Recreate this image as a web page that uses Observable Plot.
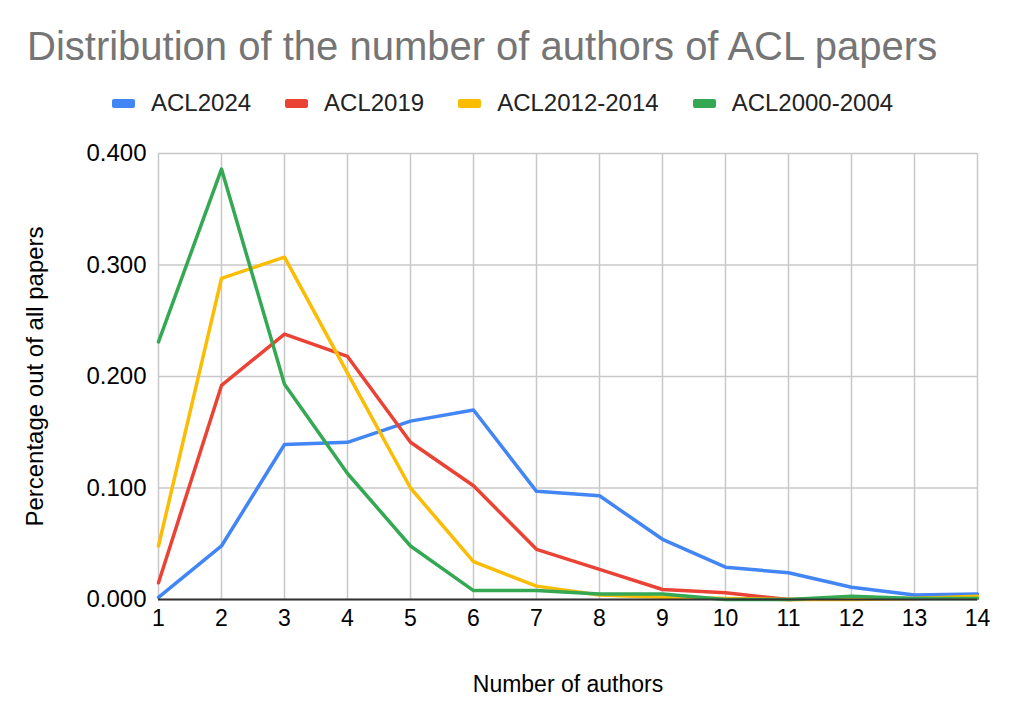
<!DOCTYPE html>
<html>
<head>
<meta charset="utf-8">
<script src="https://cdn.jsdelivr.net/npm/d3@7"></script>
<script src="https://cdn.jsdelivr.net/npm/@observablehq/plot@0.6"></script>
<style>
  html, body { margin: 0; padding: 0; background: #fff; }
  body { width: 1011px; height: 720px; position: relative; overflow: hidden; font-family: "Liberation Sans", Arial, sans-serif; }
  #title { position: absolute; left: 27px; top: 23px; font-size: 40px; line-height: 46px; color: #757575; white-space: nowrap; }
  #legend { position: absolute; left: 112px; top: 90px; display: flex; font-size: 24px; line-height: 26px; color: #222; white-space: nowrap; }
  .item { display: flex; align-items: center; margin-right: 34px; }
  .sw { width: 23px; height: 9px; border-radius: 2px; margin-right: 16px; }
  #chart { position: absolute; left: 0; top: 130px; }
</style>
</head>
<body>
<div id="title">Distribution of the number of authors of ACL papers</div>
<div id="legend"></div>
<div id="chart"></div>
<script>
const authors = [1, 2, 3, 4, 5, 6, 7, 8, 9, 10, 11, 12, 13, 14];
const seriesNames = ["ACL2024", "ACL2019", "ACL2012-2014", "ACL2000-2004"];
const seriesColors = ["#4285F4", "#EA4335", "#FBBC04", "#34A853"];
const acl2024 = [0.002, 0.048, 0.139, 0.141, 0.160, 0.170, 0.097, 0.093, 0.054, 0.029, 0.024, 0.011, 0.004, 0.005];
const acl2019 = [0.015, 0.192, 0.238, 0.218, 0.141, 0.102, 0.045, 0.027, 0.009, 0.006, 0.000, 0.001, 0.001, 0.002];
const acl2012 = [0.048, 0.288, 0.307, 0.203, 0.100, 0.034, 0.012, 0.004, 0.002, 0.001, 0.000, 0.000, 0.001, 0.003];
const acl2000 = [0.231, 0.386, 0.193, 0.113, 0.048, 0.008, 0.008, 0.005, 0.005, 0.000, 0.000, 0.003, 0.001, 0.001];
const yTicks = [0, 0.1, 0.2, 0.3, 0.4];

const seriesValues = [acl2024, acl2019, acl2012, acl2000];
const data = seriesNames.flatMap((name, i) =>
  authors.map((a, j) => ({series: name, authors: a, value: seriesValues[i][j]}))
);

const legend = document.getElementById("legend");
seriesNames.forEach((n, i) => {
  const it = document.createElement("div");
  it.className = "item";
  it.innerHTML = `<span class="sw" style="background:${seriesColors[i]}"></span><span>${n}</span>`;
  legend.appendChild(it);
});

const chart = Plot.plot({
  width: 1011,
  height: 590,
  marginLeft: 158,
  marginRight: 34,
  marginTop: 23,
  marginBottom: 121,
  style: {fontFamily: "Liberation Sans, Arial, sans-serif", fontSize: "24px", color: "#000", background: "#fff"},
  x: {domain: [1, 14]},
  y: {domain: [0, 0.4]},
  color: {domain: seriesNames, range: seriesColors},
  marks: [
    Plot.gridX(authors, {stroke: "#c8c8c8", strokeOpacity: 1, strokeWidth: 1.5}),
    Plot.gridY(yTicks, {stroke: "#c8c8c8", strokeOpacity: 1, strokeWidth: 1.5}),
    Plot.axisX(authors, {tickSize: 0, tickPadding: 10, fontSize: 23, label: "Number of authors", labelAnchor: "center", labelOffset: 92, labelArrow: "none"}),
    Plot.axisY(yTicks, {tickSize: 0, tickPadding: 12, fontSize: 24, tickFormat: d3.format(".3f"), label: "Percentage out of all papers", labelAnchor: "center", labelOffset: 133, labelArrow: "none"}),
    Plot.line(data, {x: "authors", y: "value", z: "series", stroke: "series", strokeWidth: 3.5, strokeLinejoin: "round"}),
    Plot.ruleY([0], {stroke: "#333", strokeWidth: 2})
  ]
});
document.getElementById("chart").appendChild(chart);
</script>
</body>
</html>
